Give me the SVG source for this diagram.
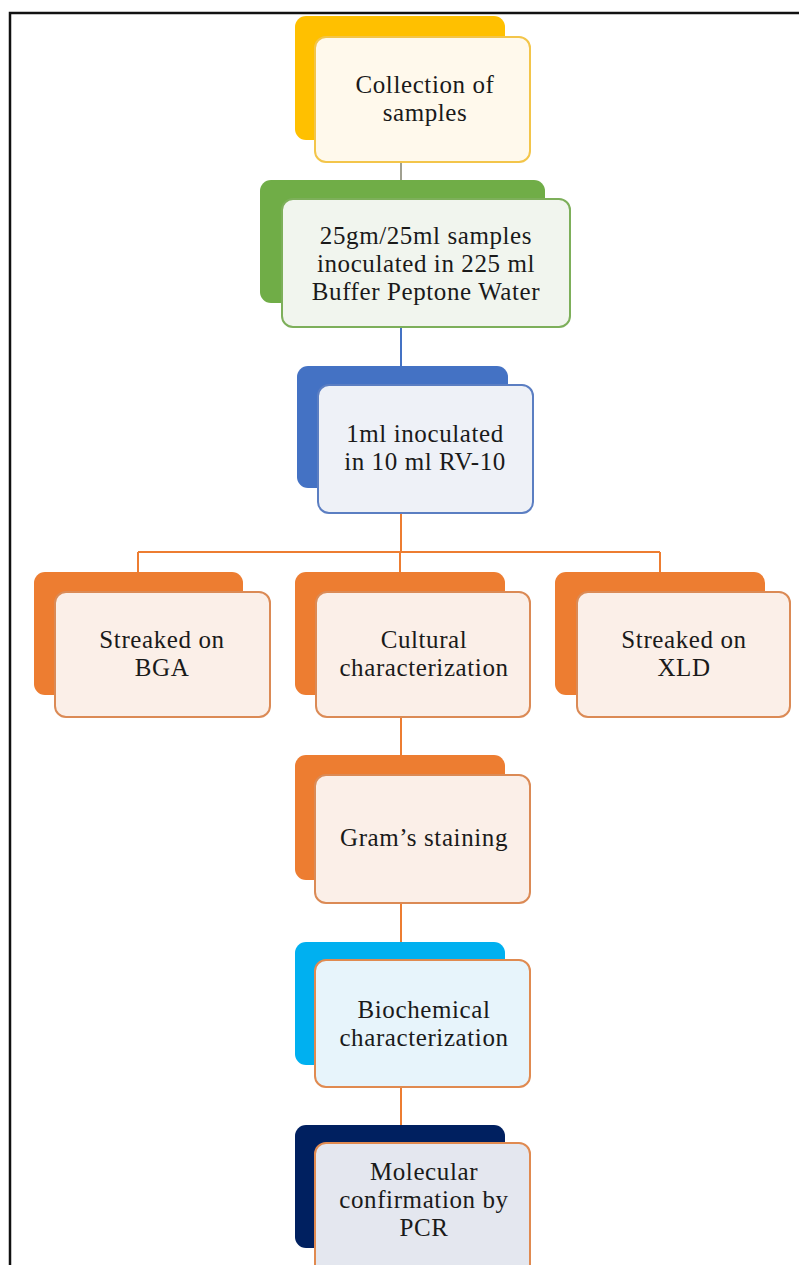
<svg xmlns="http://www.w3.org/2000/svg" width="799" height="1265" viewBox="0 0 799 1265">
<style>
text{font-family:"Liberation Serif","Times New Roman",serif;font-size:25px;letter-spacing:0.6px;fill:#1a1a1a;text-anchor:middle}
.c{fill:none;stroke-width:2}
.back{stroke:none}
.front{stroke-width:2}
.or .back{fill:#ED7D31}
.or .front{fill:#FBEFE8;stroke:#DB8A55}
</style>
<rect x="0" y="0" width="799" height="1265" fill="#ffffff"/>
<path d="M10,1265 V13 H799" fill="none" stroke="#111" stroke-width="2.5"/>
<g id="connectors">
<line class="c" x1="401" y1="155" x2="401" y2="199" stroke="#a0a090"/>
<line class="c" x1="401" y1="320" x2="401" y2="385" stroke="#4472C4"/>
<line class="c" x1="401" y1="505" x2="401" y2="552" stroke="#ED7D31"/>
<line class="c" x1="138" y1="552" x2="660" y2="552" stroke="#ED7D31"/>
<line class="c" x1="138" y1="552" x2="138" y2="572" stroke="#ED7D31"/>
<line class="c" x1="400" y1="552" x2="400" y2="572" stroke="#ED7D31"/>
<line class="c" x1="660" y1="552" x2="660" y2="572" stroke="#ED7D31"/>
<line class="c" x1="401" y1="710" x2="401" y2="775" stroke="#ED7D31"/>
<line class="c" x1="401" y1="895" x2="401" y2="960" stroke="#ED7D31"/>
<line class="c" x1="401" y1="1080" x2="401" y2="1143" stroke="#ED7D31"/>
</g>
<g id="collection">
<rect class="back" x="295" y="16" width="210" height="124" rx="11" fill="#FFC000"/>
<rect class="front" x="315" y="37" width="215" height="125" rx="11" fill="#FFF9EC" stroke="#F3C54A"/>
<text x="425" y="93">Collection of</text>
<text x="425" y="121">samples</text>
</g>
<g id="bpw">
<rect class="back" x="260" y="180" width="285" height="123" rx="11" fill="#70AD47"/>
<rect class="front" x="282" y="199" width="288" height="128" rx="11" fill="#F1F5EE" stroke="#7DAF5A"/>
<text x="426" y="244">25gm/25ml samples</text>
<text x="426" y="272">inoculated in 225 ml</text>
<text x="426" y="300">Buffer Peptone Water</text>
</g>
<g id="rv10">
<rect class="back" x="297" y="366" width="211" height="122" rx="11" fill="#4472C4"/>
<rect class="front" x="318" y="385" width="215" height="128" rx="11" fill="#EEF1F7" stroke="#5B7EC2"/>
<text x="425" y="442">1ml inoculated</text>
<text x="425" y="470">in 10 ml RV-10</text>
</g>
<g id="bga" class="or">
<rect class="back" x="34" y="572" width="209" height="123" rx="11"/>
<rect class="front" x="55" y="592" width="215" height="125" rx="11"/>
<text x="162" y="648">Streaked on</text>
<text x="162" y="676">BGA</text>
</g>
<g id="cultural" class="or">
<rect class="back" x="295" y="572" width="210" height="123" rx="11"/>
<rect class="front" x="316" y="592" width="214" height="125" rx="11"/>
<text x="424" y="648">Cultural</text>
<text x="424" y="676">characterization</text>
</g>
<g id="xld" class="or">
<rect class="back" x="555" y="572" width="210" height="123" rx="11"/>
<rect class="front" x="577" y="592" width="213" height="125" rx="11"/>
<text x="684" y="648">Streaked on</text>
<text x="684" y="676">XLD</text>
</g>
<g id="gram" class="or">
<rect class="back" x="295" y="755" width="210" height="125" rx="11"/>
<rect class="front" x="315" y="775" width="215" height="128" rx="11"/>
<text x="424" y="846">Gram’s staining</text>
</g>
<g id="biochemical">
<rect class="back" x="295" y="942" width="210" height="123" rx="11" fill="#00B0F0"/>
<rect class="front" x="315" y="960" width="215" height="127" rx="11" fill="#E7F4FB" stroke="#E08A50"/>
<text x="424" y="1018">Biochemical</text>
<text x="424" y="1046">characterization</text>
</g>
<g id="molecular">
<rect class="back" x="295" y="1125" width="210" height="123" rx="11" fill="#002060"/>
<rect class="front" x="315" y="1143" width="215" height="140" rx="11" fill="#E4E7EF" stroke="#E08A50"/>
<text x="424" y="1180">Molecular</text>
<text x="424" y="1208">confirmation by</text>
<text x="424" y="1236">PCR</text>
</g>
</svg>
